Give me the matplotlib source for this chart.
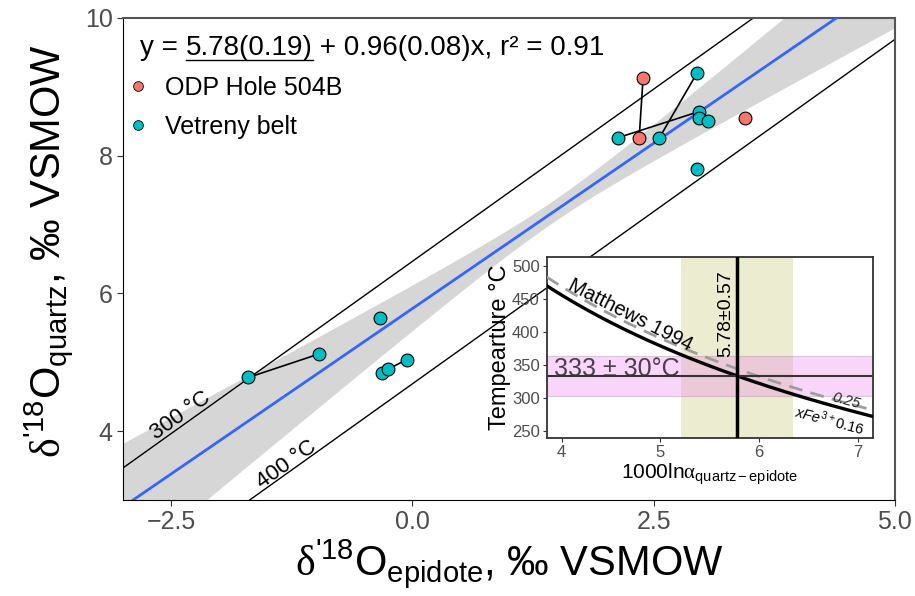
import numpy as np
import matplotlib
matplotlib.use("Agg")
import matplotlib.pyplot as plt
from matplotlib.lines import Line2D

plt.rcParams['font.family'] = ['Liberation Sans', 'DejaVu Sans']
plt.rcParams['mathtext.fontset'] = 'custom'
plt.rcParams['mathtext.rm'] = 'Liberation Sans'
plt.rcParams['mathtext.it'] = 'Liberation Sans:italic'
plt.rcParams['mathtext.sf'] = 'Liberation Serif'

# --- data ---
odp_x = [2.39, 2.35, 3.45]
odp_y = [9.12, 8.26, 8.55]
vet_x = [2.95, 2.13, 2.56, 2.97, 2.97, 3.06, 2.95, -1.70, -0.97, -0.34, -0.32, -0.25, -0.06]
vet_y = [9.20, 8.26, 8.26, 8.64, 8.54, 8.51, 7.80, 4.78, 5.12, 5.64, 4.84, 4.90, 5.04]

# paired samples joined by a tie line (indices)
odp_ties = [(0, 1)]
vet_ties = [(1, 3), (2, 0), (3, 5), (7, 8), (10, 11), (11, 12)]

# regression y = a + b x and its confidence band
fit_a = 5.78
fit_b = 0.96
ci_xbar = 1.45
ci_s0 = 0.158
ci_sb = 0.202

# Matthews 1994 quartz-epidote: 1000ln(alpha) = A*1e6/T^2
A_016 = 2.124
A_025 = 2.20
iso_T = [300, 400]

T_est = 333
T_err = 30
D_est = 5.78
D_err = 0.57

red = "#F8766D"
cyan = "#00BFC4"
tick_gray = "#4D4D4D"


def delta(A, T):
    return A * 1e6 / (T + 273.15) ** 2


def temp(A, d):
    return np.sqrt(A * 1e6 / d) - 273.15


fig = plt.figure(figsize=(9.15, 5.96), dpi=100)
ax = fig.add_axes([0.1344, 0.161, 0.8436, 0.809])

xs = np.linspace(-3, 5, 200)
hw = np.sqrt(ci_s0 ** 2 + (ci_sb * (xs - ci_xbar)) ** 2)
yfit = fit_a + fit_b * xs
ax.fill_between(xs, yfit - hw, yfit + hw, color="#D6D6D6", lw=0, zorder=1)

for T in iso_T:
    ax.plot(xs, xs + delta(A_016, T), color="black", lw=1.0, zorder=2)
ax.plot(xs, yfit, color="#3366FF", lw=2.0, zorder=3)

for i, j in odp_ties:
    ax.plot([odp_x[i], odp_x[j]], [odp_y[i], odp_y[j]], color="black", lw=1.2, zorder=4)
for i, j in vet_ties:
    ax.plot([vet_x[i], vet_x[j]], [vet_y[i], vet_y[j]], color="black", lw=1.2, zorder=4)

ax.scatter(odp_x, odp_y, s=85, c=red, edgecolors="black", linewidths=0.8, zorder=5)
ax.scatter(vet_x, vet_y, s=85, c=cyan, edgecolors="black", linewidths=0.8, zorder=5)

ax.text(-2.40, 4.22, "300 °C", rotation=35.5, ha="center", va="center", fontsize=16)
ax.text(-1.30, 3.51, "400 °C", rotation=35.5, ha="center", va="center", fontsize=16)

ax.set_xlim(-3, 5)
ax.set_ylim(3, 10)
ax.set_xticks([-2.5, 0.0, 2.5, 5.0])
ax.set_xticklabels(["\u22122.5", "0.0", "2.5", "5.0"])
ax.set_yticks([4, 6, 8, 10])
ax.tick_params(labelsize=18, labelcolor=tick_gray, color="#333333", length=4)
for s in ["left", "bottom"]:
    ax.spines[s].set_color("black")
for s in ["top", "right"]:
    ax.spines[s].set_color("#555555")
    ax.spines[s].set_linewidth(1.5)

ax.set_xlabel(r"$\mathsf{\delta}^{\text{'}18}\mathrm{O}_{\mathrm{epidote}}$, ‰ VSMOW", fontsize=30, labelpad=2)
ax.set_ylabel(r"$\mathsf{\delta}^{\text{'}18}\mathrm{O}_{\mathrm{quartz}}$, ‰ VSMOW", fontsize=30)
ax.yaxis.set_label_coords(-0.062, 0.517)

# equation with underlined intercept
fig.canvas.draw()
r = fig.canvas.get_renderer()
parts = ["y = ", "5.78(0.19)", " + 0.96(0.08)x, r\u00b2 = 0.91"]
xpos = 140
ypos = 596 - 55
for k, p in enumerate(parts):
    t = fig.text(xpos / 915, ypos / 596, p, fontsize=20, ha="left", va="baseline")
    bb = t.get_window_extent(renderer=r)
    if k == 1:
        fig.add_artist(Line2D([bb.x0 / 915, bb.x1 / 915], [(ypos - 5) / 596] * 2, color="black", lw=1.0))
    xpos = bb.x1

handles = [
    Line2D([], [], marker="o", ls="", markerfacecolor=red, markeredgecolor="black", markersize=7, markeredgewidth=0.6),
    Line2D([], [], marker="o", ls="", markerfacecolor=cyan, markeredgecolor="black", markersize=7, markeredgewidth=0.6),
]
ax.legend(handles, ["ODP Hole 504B", "Vetreny belt"], loc="upper left", bbox_to_anchor=(0.003, 0.88),
          frameon=False, fontsize=18, handlelength=1.0, handletextpad=0.58, labelspacing=0.62,
          borderpad=0.0, borderaxespad=0.0)

# --- inset ---
ins = fig.add_axes([0.5975, 0.265, 0.357, 0.3037])
ins.axvspan(D_est - D_err, D_est + D_err, color="#ECECD0", lw=0, zorder=1)
ins.axhspan(T_est - T_err, T_est + T_err, facecolor="violet", alpha=0.33, edgecolor="#9a7a9a", lw=0.8, zorder=2)
dx = np.linspace(3.85, 7.16, 200)
ins.plot(dx, temp(A_025, dx), color="#9E9E9E", lw=2.0, dashes=(5, 3), zorder=3)
ins.plot(dx, temp(A_016, dx), color="black", lw=2.4, zorder=4)
ins.axhline(T_est, color="#333333", lw=1.5, zorder=5)
ins.axvline(D_est, color="black", lw=2.5, zorder=6)

ins.text(4.70, 425, "Matthews 1994", rotation=-27, ha="center", va="center", fontsize=14.5)
ins.text(5.665, 428, "5.78\u00b10.57", rotation=90, ha="center", va="center", fontsize=14)
ins.text(3.92, 344, "333 \u00b1 30\u00b0C", ha="left", va="center", fontsize=18, color="#4a3f4a")
ins.text(6.88, 295, "0.25", rotation=-15, ha="center", va="center", fontsize=10.5, style="italic", color="#222222")
ins.text(6.72, 266, r"$\mathit{xFe}^{3+}\mathit{0.16}$", rotation=-15, ha="center", va="center", fontsize=10.5)

ins.set_xlim(3.85, 7.16)
ins.set_ylim(239, 513)
ins.set_xticks([4, 5, 6, 7])
ins.set_yticks([250, 300, 350, 400, 450, 500])
ins.tick_params(labelsize=12, labelcolor=tick_gray, color="#333333", length=3, pad=2)
for s in ins.spines.values():
    s.set_color("#333333")
    s.set_linewidth(1.3)
ins.set_ylabel("Tempearture °C", fontsize=17, labelpad=1)
ins.set_xlabel(r"1000ln$\mathsf{\alpha}_{\mathrm{quartz-epidote}}$", fontsize=15, labelpad=1)

fig.savefig("out.png", dpi=100)
